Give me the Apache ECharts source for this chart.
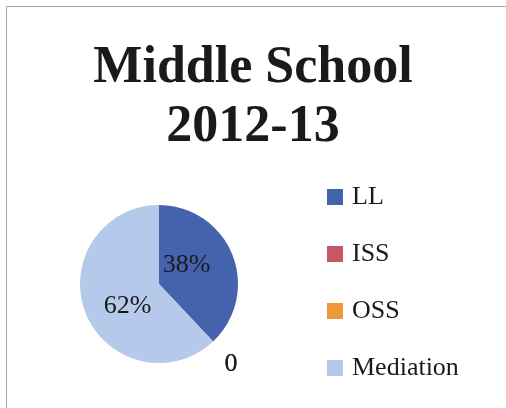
<!DOCTYPE html>
<html>
<head>
<meta charset="utf-8">
<style>
  html, body { margin: 0; padding: 0; background: #ffffff; }
  #chart { width: 506px; height: 408px; }
</style>
<script src="https://cdn.jsdelivr.net/npm/echarts@6/dist/echarts.min.js"></script>
</head>
<body>
<div id="chart"></div>
<script>
// Discipline outcomes, middle school, 2012-13
const categories = ['LL', 'ISS', 'OSS', 'Mediation'];
const values = [38, 0, 0, 62];
const colors = ['#4563AC', '#C8566A', '#EB9A3E', '#B5C9EA'];

const serif = '"Liberation Serif", "Times New Roman", serif';

// small offsets for the slice labels, by data index
const labelNudge = [[-12, -3], [-12, 3], [-12, 3], [8, 7]];

const chart = echarts.init(document.getElementById('chart'), null, { renderer: 'canvas' });

chart.setOption({
  backgroundColor: '#ffffff',
  animation: false,
  graphic: [{
    type: 'rect',
    shape: { x: 6.5, y: 6.5, width: 560, height: 460 },
    style: { fill: 'none', stroke: '#ADA3B0', lineWidth: 1 },
    silent: true
  }],
  title: {
    text: 'Middle School\n2012-13',
    left: 'center',
    top: 34,
    textStyle: {
      fontFamily: serif,
      fontWeight: 'bold',
      fontSize: 52,
      lineHeight: 59,
      color: '#1a1a1a'
    }
  },
  legend: {
    orient: 'vertical',
    left: 322,
    top: 179,
    itemWidth: 16,
    itemHeight: 16,
    itemGap: 31,
    icon: 'rect',
    data: categories,
    textStyle: {
      fontFamily: serif,
      fontSize: 26,
      color: '#1a1a1a',
      padding: [0, 0, 0, 4]
    }
  },
  series: [{
    type: 'pie',
    center: [159, 284],
    radius: 79,
    startAngle: 90,
    clockwise: true,
    avoidLabelOverlap: false,
    color: colors,
    label: {
      show: true,
      position: 'inside',
      fontFamily: serif,
      fontSize: 26,
      color: '#1a1a1a',
      formatter: p => p.percent + '%'
    },
    labelLine: { show: false },
    labelLayout: p => {
      const n = labelNudge[p.dataIndex];
      return n ? { dx: n[0], dy: n[1] } : {};
    },
    data: categories.map((name, i) => {
      const item = { name, value: values[i] };
      if (values[i] === 0) {
        item.label = { position: 'outside', formatter: '{c}' };
        item.labelLine = { show: false, length: 27, length2: 0 };
      }
      return item;
    })
  }]
});
</script>
</body>
</html>
